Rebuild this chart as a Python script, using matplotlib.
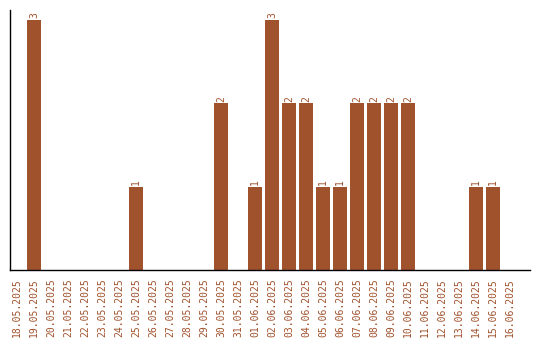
import matplotlib
matplotlib.use("Agg")
import matplotlib.pyplot as plt
import numpy as np

# one entry per day, 18.05.2025 .. 16.06.2025
dates = [
    "18.05.2025", "19.05.2025", "20.05.2025", "21.05.2025", "22.05.2025",
    "23.05.2025", "24.05.2025", "25.05.2025", "26.05.2025", "27.05.2025",
    "28.05.2025", "29.05.2025", "30.05.2025", "31.05.2025", "01.06.2025",
    "02.06.2025", "03.06.2025", "04.06.2025", "05.06.2025", "06.06.2025",
    "07.06.2025", "08.06.2025", "09.06.2025", "10.06.2025", "11.06.2025",
    "12.06.2025", "13.06.2025", "14.06.2025", "15.06.2025", "16.06.2025",
]
counts = [0, 3, 0, 0, 0, 0, 0, 1, 0, 0, 0, 0, 2, 0, 1,
          3, 2, 2, 1, 1, 2, 2, 2, 2, 0, 0, 0, 1, 1, 0]

COLOR = "#a0522d"
FONT = "DejaVu Sans Mono"

fig = plt.figure(figsize=(5.4, 3.4), dpi=100)
ax = fig.add_axes([10 / 540, 1 - 270 / 340, 520 / 540, 260 / 340])

x = np.arange(len(dates))
bars = ax.bar(x, counts, width=0.82, color=COLOR)

for xi, v in zip(x, counts):
    if v > 0:
        ax.text(xi, v + 0.02, str(v), rotation=90, ha="center", va="bottom",
                color=COLOR, fontsize=7, family=FONT)

ax.set_xlim(-0.41, 30.18)
ax.set_ylim(0, 3.12)
ax.set_xticks(x)
ax.set_xticklabels(dates, rotation=90, color=COLOR, fontsize=7, family=FONT)
ax.tick_params(axis="x", length=0, pad=6)
ax.set_yticks([])
for side in ["top", "right"]:
    ax.spines[side].set_visible(False)
for side in ["left", "bottom"]:
    ax.spines[side].set_color("black")
    ax.spines[side].set_linewidth(1)

fig.savefig("out.png", dpi=100)
